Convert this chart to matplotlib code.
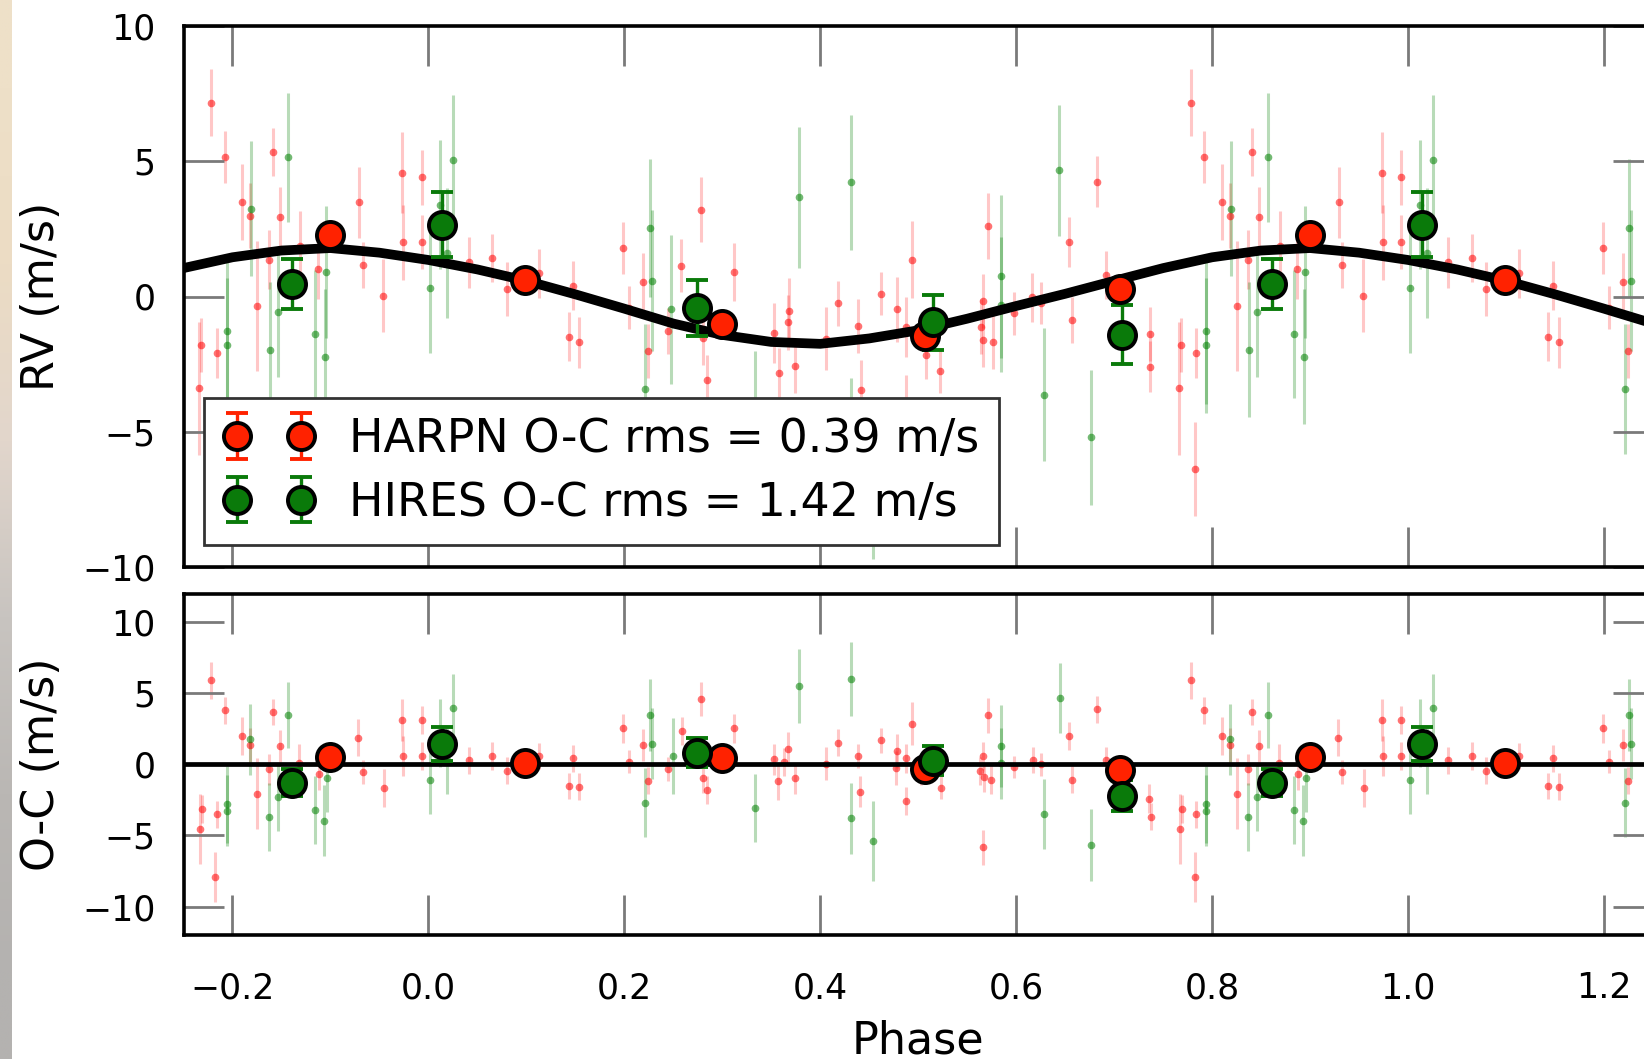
import numpy as np
import matplotlib
matplotlib.use("Agg")
import matplotlib.pyplot as plt

# ---------------- data ----------------
# model curve, phase -0.25 .. 1.25 step 0.05
model_phase = np.round(np.arange(-0.25, 1.2501, 0.05), 2)
model_rv = [1.05, 1.45, 1.70, 1.79, 1.62, 1.35, 1.00, 0.58, 0.08, -0.45,
            -1.00, -1.42, -1.68, -1.75, -1.55, -1.25, -0.82, -0.35, 0.10, 0.58,
            1.05, 1.45, 1.70, 1.79, 1.62, 1.35, 1.00, 0.58, 0.08, -0.45, -1.00]

# HARPN individual RVs (phase, rv, err)
harpn_phase = [0.041, 0.065, 0.080, 0.113, 0.148, 0.143, 0.154, 0.199, 0.219, 0.205,
               0.224, 0.245, 0.258, 0.278, 0.280, 0.284, 0.312, 0.353, 0.358, 0.367,
               0.368, 0.374, 0.406, 0.418, 0.438, 0.442, 0.462, 0.478, 0.487, 0.494,
               0.508, 0.522, 0.571, 0.566, 0.564, 0.566, 0.576, 0.598, 0.616, 0.625,
               0.654, 0.657, 0.682, 0.692, 0.566, 0.488, 0.737, 0.737, 0.766, 0.768,
               0.778, 0.782, 0.784, 0.792, 0.810, 0.818, 0.825, 0.837, 0.841, 0.848,
               0.869, 0.887, 0.929, 0.933, 0.954, 0.973, 0.974, 0.993, 0.993]
harpn_rv = [1.26, 1.42, 0.27, 0.86, 0.40, -1.48, -1.70, 1.79, 0.52, -0.41,
            -2.03, -1.29, 1.13, 3.20, -1.55, -3.10, 0.90, -1.35, -2.81, -0.96,
            -0.55, -2.56, -1.56, -0.25, -1.10, -3.45, 0.10, -0.47, -1.13, 1.36,
            -2.16, -2.75, 2.59, -0.18, -1.11, -1.60, -1.68, -0.62, -0.03, -0.25,
            2.02, -0.86, 4.25, 0.80, -6.59, -3.90, -1.40, -2.59, -3.40, -1.79,
            7.17, -6.38, -2.10, 5.15, 3.48, 2.98, -0.34, 1.36, 5.34, 2.94,
            1.85, 1.01, 3.48, 1.17, 0.03, 4.58, 2.00, 4.40, 2.00]
harpn_err = [0.95, 0.90, 1.00, 0.90, 0.90, 0.90, 0.95, 0.95, 1.10, 0.80,
             1.00, 0.85, 0.98, 1.20, 1.00, 0.95, 1.08, 1.10, 0.90, 1.00,
             1.25, 1.00, 1.17, 0.83, 1.00, 1.10, 0.80, 1.20, 1.10, 1.42,
             0.90, 0.80, 1.22, 1.00, 1.00, 1.00, 1.00, 0.80, 0.90, 0.77,
             0.92, 0.85, 0.95, 0.90, 1.17, 1.00, 1.00, 0.95, 2.45, 1.00,
             1.24, 1.75, 0.92, 0.95, 1.40, 1.20, 2.40, 1.10, 0.90, 1.10,
             1.30, 1.10, 1.30, 0.85, 1.35, 1.50, 1.40, 1.00, 1.00]

# HIRES individual RVs
hires_phase = [0.002, 0.012, 0.019, 0.025, 0.226, 0.228, 0.221, 0.248, 0.333, 0.378,
               0.431, 0.431, 0.454, 0.584, 0.584, 0.644, 0.628, 0.676, 0.794, 0.794,
               0.819, 0.838, 0.846, 0.857, 0.884, 0.894, 0.895]
hires_rv = [0.31, 3.40, 1.60, 5.05, 2.55, 0.59, -3.42, -0.47, -4.50, 3.67,
            4.22, -5.50, -7.10, 0.74, -0.30, 4.66, -3.63, -5.21, -1.27, -1.80,
            3.24, -1.97, -0.59, 5.14, -1.40, -2.22, 0.90]
hires_err = [2.40, 2.40, 2.40, 2.40, 2.55, 2.60, 2.40, 2.75, 2.50, 2.60,
             2.50, 2.50, 2.60, 3.00, 2.50, 2.43, 2.46, 2.50, 2.70, 2.50,
             2.50, 2.50, 2.40, 2.37, 2.37, 2.50, 2.45]

# O-C residuals
harpn_oc_phase = [0.041, 0.065, 0.080, 0.113, 0.148, 0.143, 0.154, 0.199, 0.219, 0.205,
                  0.224, 0.245, 0.259, 0.278, 0.280, 0.284, 0.312, 0.353, 0.357, 0.363,
                  0.367, 0.374, 0.406, 0.418, 0.438, 0.441, 0.462, 0.478, 0.477, 0.487,
                  0.488, 0.494, 0.503, 0.523, 0.566, 0.563, 0.567, 0.574, 0.571, 0.566,
                  0.598, 0.617, 0.625, 0.654, 0.657, 0.682, 0.692, 0.736, 0.738, 0.767,
                  0.769, 0.778, 0.782, 0.784, 0.792, 0.810, 0.818, 0.825, 0.837, 0.841,
                  0.848, 0.868, 0.888, 0.928, 0.933, 0.955, 0.973, 0.974, 0.993, 0.993]
harpn_oc = [0.28, 0.58, -0.47, 0.58, 0.42, -1.52, -1.59, 2.52, 1.35, 0.18,
            -1.17, -0.35, 2.34, 4.56, -1.00, -1.82, 2.52, 0.35, -1.17, 0.14,
            1.05, -1.00, 0.05, 1.52, 0.58, -1.92, 1.68, 0.93, -0.24, 0.42,
            -2.57, 2.85, -0.47, -1.64, 0.58, -0.47, -0.93, -1.10, 3.46, -5.85,
            -0.19, 0.28, 0.00, 1.98, -1.10, 3.86, 0.30, -2.41, -3.70, -4.56,
            -3.16, 5.89, -7.90, -3.52, 3.79, 1.98, 1.35, -2.06, -0.35, 3.67,
            1.28, 0.11, -0.70, 1.87, -0.52, -1.68, 3.11, 0.58, 3.11, 0.58]
harpn_oc_err = [0.95, 0.95, 0.95, 0.90, 0.95, 0.90, 0.95, 1.00, 1.10, 0.80,
                0.95, 0.85, 1.00, 1.20, 1.00, 1.00, 1.00, 1.10, 1.35, 1.00,
                1.20, 1.10, 1.17, 0.93, 0.85, 1.10, 0.90, 1.20, 1.20, 1.00,
                1.00, 1.50, 1.00, 0.80, 1.00, 1.00, 1.00, 1.00, 1.23, 1.23,
                0.77, 0.90, 0.80, 1.00, 0.95, 0.95, 0.90, 1.00, 0.95, 2.45,
                1.00, 1.30, 1.75, 0.95, 0.95, 1.35, 1.20, 2.50, 1.10, 0.90,
                1.10, 1.30, 1.10, 1.30, 0.85, 1.35, 1.50, 1.40, 1.00, 1.00]

hires_oc_phase = [0.002, 0.012, 0.019, 0.025, 0.226, 0.228, 0.221, 0.250, 0.333, 0.378,
                  0.431, 0.431, 0.454, 0.584, 0.584, 0.628, 0.645, 0.676, 0.794, 0.794,
                  0.818, 0.837, 0.846, 0.857, 0.884, 0.893, 0.896]
hires_oc = [-1.10, 2.20, 0.30, 3.97, 3.46, 1.45, -2.69, 0.58, -3.09, 5.49,
            5.96, -3.79, -5.38, 1.28, 0.07, -3.50, 4.67, -5.68, -2.81, -3.26,
            1.75, -3.70, -2.30, 3.46, -3.20, -3.98, -0.94]
hires_oc_err = [2.40, 2.40, 2.40, 2.40, 2.50, 2.50, 2.40, 2.70, 2.40, 2.60,
                2.60, 2.50, 2.80, 2.90, 2.50, 2.45, 2.45, 2.50, 2.70, 2.50,
                2.50, 2.40, 2.40, 2.35, 2.40, 2.50, 2.45]

# binned points
harpn_bin_phase = [0.099, 0.300, 0.507, 0.706, 0.900]
harpn_bin_rv = [0.60, -1.00, -1.46, 0.27, 2.27]
harpn_bin_oc = [0.12, 0.46, -0.35, -0.42, 0.48]
harpn_bin_err = [0.30, 0.30, 0.30, 0.30, 0.30]

hires_bin_phase = [0.014, 0.274, 0.515, 0.708, 0.861]
hires_bin_rv = [2.65, -0.43, -0.96, -1.42, 0.46]
hires_bin_oc = [1.40, 0.81, 0.23, -2.22, -1.29]
hires_bin_err = [1.20, 1.03, 1.02, 1.09, 0.94]

labels = ["HARPN O-C rms = 0.39 m/s", "HIRES O-C rms = 1.42 m/s"]
xticks = [-0.2, 0.0, 0.2, 0.4, 0.6, 0.8, 1.0, 1.2]
yticks = [-10, -5, 0, 5, 10]

# ---------------- figure ----------------
W, H = 1644, 1059
fig = plt.figure(figsize=(W / 100, H / 100), dpi=100)

# left background strip (part of the screenshot)
strip = fig.add_axes([0, 0, 11 / W, 1])
grad = np.array([[238, 224, 200], [236, 220, 196], [226, 214, 204],
                 [200, 196, 192], [186, 183, 180], [180, 178, 176]]) / 255.0
strip.imshow(grad[:, None, :], aspect="auto", interpolation="bilinear",
             extent=[0, 1, 0, 1])
strip.set_axis_off()

left = 183.5 / W
width = (1653 - 183.5) / W
ax1 = fig.add_axes([left, 1 - 567 / H, width, (567 - 26) / H])
ax2 = fig.add_axes([left, 1 - 935 / H, width, (935 - 593.5) / H])

RED_S = (1.0, 0.0, 0.0, 0.55)
RED_E = (1.0, 0.0, 0.0, 0.22)
GRN_S = (0.0, 0.5, 0.0, 0.55)
GRN_E = (0.0, 0.5, 0.0, 0.28)
RED_B = "#ff2200"
GRN_B = "#0a7a0a"


def shifted(ph):
    ph = np.asarray(ph, float)
    return [ph - 1.0, ph, ph + 1.0]


def small(ax, ph, val, err, c, ec):
    for p in shifted(ph):
        ax.errorbar(p, val, yerr=err, fmt="o", color=c, ecolor=ec, ms=5.5,
                    mew=0, elinewidth=2.2, capsize=6, capthick=1.5, zorder=1)


def big(ax, ph, val, err, c):
    cont = None
    for p in shifted(ph):
        cont = ax.errorbar(p, val, yerr=err, fmt="o", color=c, mfc=c, mec="k",
                           ms=19.5, mew=2.8, elinewidth=2.4, capsize=8,
                           capthick=3, ecolor=c, zorder=4)
    return cont


# top panel
small(ax1, harpn_phase, harpn_rv, harpn_err, RED_S, RED_E)
small(ax1, hires_phase, hires_rv, hires_err, GRN_S, GRN_E)
ax1.plot(model_phase, model_rv, color="k", lw=7, solid_joinstyle="round",
         solid_capstyle="round", zorder=3)
h1 = big(ax1, harpn_bin_phase, harpn_bin_rv, harpn_bin_err, RED_B)
h2 = big(ax1, hires_bin_phase, hires_bin_rv, hires_bin_err, GRN_B)

# bottom panel
small(ax2, harpn_oc_phase, harpn_oc, harpn_oc_err, RED_S, RED_E)
small(ax2, hires_oc_phase, hires_oc, hires_oc_err, GRN_S, GRN_E)
ax2.axhline(0, color="k", lw=3.4, zorder=3)
big(ax2, harpn_bin_phase, harpn_bin_oc, harpn_bin_err, RED_B)
big(ax2, hires_bin_phase, hires_bin_oc, hires_bin_err, GRN_B)

for ax, ylim in ((ax1, (-10, 10)), (ax2, (-12, 12))):
    ax.set_xlim(-0.25, 1.25)
    ax.set_ylim(*ylim)
    ax.set_xticks(xticks)
    ax.set_yticks(yticks)
    ax.tick_params(direction="in", length=29, width=2.0, color="#7a7a7a",
                   top=True, right=True, labelsize=25, pad=20)
    ax.tick_params(axis="x", pad=26)
    for s in ax.spines.values():
        s.set_linewidth(2.6)
        s.set_color("k")

ax1.tick_params(labelbottom=False)
ax1.set_ylabel("RV (m/s)", fontsize=32)
ax2.set_ylabel("O-C (m/s)", fontsize=32)
ax1.yaxis.set_label_coords(-0.0818, 0.5)
ax2.yaxis.set_label_coords(-0.0818, 0.5)
ax2.set_xlabel("Phase", fontsize=32, labelpad=10)

leg = ax1.legend([h1, h2], labels, loc="lower left",
                 bbox_to_anchor=(0.014, 0.041), borderaxespad=0,
                 numpoints=2, fontsize=33, handlelength=2.0,
                 handletextpad=0.75, borderpad=0.42, labelspacing=0.4,
                 fancybox=False, framealpha=1.0, edgecolor="#333333")
leg.get_frame().set_linewidth(2.0)
leg.set_zorder(10)

fig.savefig("out.png", dpi=100)
